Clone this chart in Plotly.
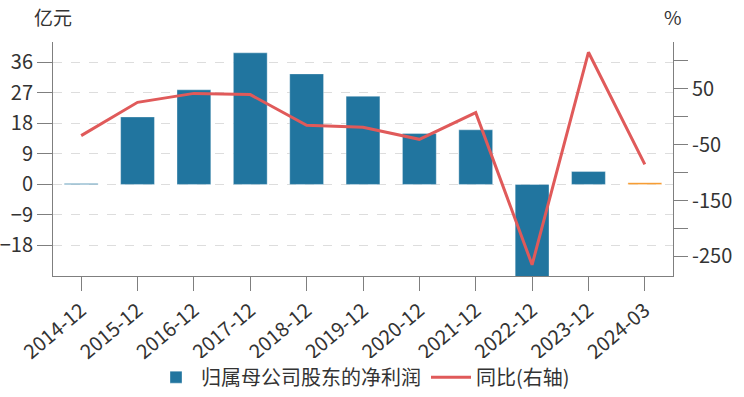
import plotly.graph_objects as go

categories = ["2014-12", "2015-12", "2016-12", "2017-12", "2018-12", "2019-12",
              "2020-12", "2021-12", "2022-12", "2023-12", "2024-03"]
profit = [0.3, 19.9, 27.9, 38.8, 32.6, 26.0, 15.0, 16.1, -30.0, 3.8, 0.5]
yoy = [-33.7, 26.0, 42.0, 39.8, -15.2, -18.8, -40.3, 7.5, -264.9, 115.6, -85.0]
left_ticks = [36, 27, 18, 9, 0, -9, -18]
right_ticks = [100, 50, 0, -50, -100, -150, -200, -250]
right_ticktext = ["", "50", "", "-50", "", "-150", "", "-250"]

bar_colors = ["#21759f"] * (len(categories) - 1) + ["#f7931e"]

FONT = "Noto Sans CJK SC, Microsoft YaHei, sans-serif"
AXIS = "#7f7f7f"

fig = go.Figure()
fig.add_trace(go.Bar(
    x=categories, y=profit, name="归属母公司股东的净利润",
    marker=dict(color=bar_colors, line=dict(color="rgba(255,255,255,0.35)", width=1)),
    width=0.6, yaxis="y",
))
fig.add_trace(go.Scatter(
    x=categories, y=yoy, name="同比(右轴)", mode="lines",
    line=dict(color="#e05a5a", width=3), yaxis="y2",
))

fig.update_layout(
    width=744, height=397,
    margin=dict(l=53, r=71, t=42, b=121, autoexpand=False),
    paper_bgcolor="white", plot_bgcolor="white",
    font=dict(family=FONT, size=19, color="#333333"),
    showlegend=True,
    legend=dict(orientation="h", x=0.5, xanchor="center",
                yref="container", y=0.05, yanchor="middle",
                font=dict(size=20, color="#333333"), itemwidth=40),
    bargap=0.4,
    xaxis=dict(
        type="category", showline=True, linecolor=AXIS, linewidth=1,
        ticks="outside", ticklen=14, tickcolor=AXIS, tickangle=-40,
        showgrid=False, zeroline=False, tickfont=dict(size=20), automargin=False,
    ),
    yaxis=dict(
        range=[-27, 42], tickvals=left_ticks, showline=True, linecolor=AXIS,
        linewidth=1, ticks="outside", ticklen=15, tickcolor=AXIS,
        showgrid=True, gridcolor="#dddddd", griddash="dash", gridwidth=1,
        zeroline=False, tickfont=dict(size=20), automargin=False,
    ),
    yaxis2=dict(
        range=[-285, 134], overlaying="y", side="right",
        tickvals=right_ticks, ticktext=right_ticktext, showline=True,
        linecolor=AXIS, linewidth=1, ticks="outside", ticklen=14, tickcolor=AXIS,
        showgrid=False, zeroline=False, tickfont=dict(size=20), automargin=False,
    ),
    annotations=[
        dict(text="亿元", xref="paper", yref="paper", x=0.0, y=1.0, yshift=26,
             xanchor="center", yanchor="middle", showarrow=False, font=dict(size=19)),
        dict(text="%", xref="paper", yref="paper", x=1.0, y=1.0, yshift=26,
             xanchor="center", yanchor="middle", showarrow=False, font=dict(size=19)),
    ],
)

fig.write_html("out.html", config={"displayModeBar": False},
               post_script="document.body.style.margin='0';")
